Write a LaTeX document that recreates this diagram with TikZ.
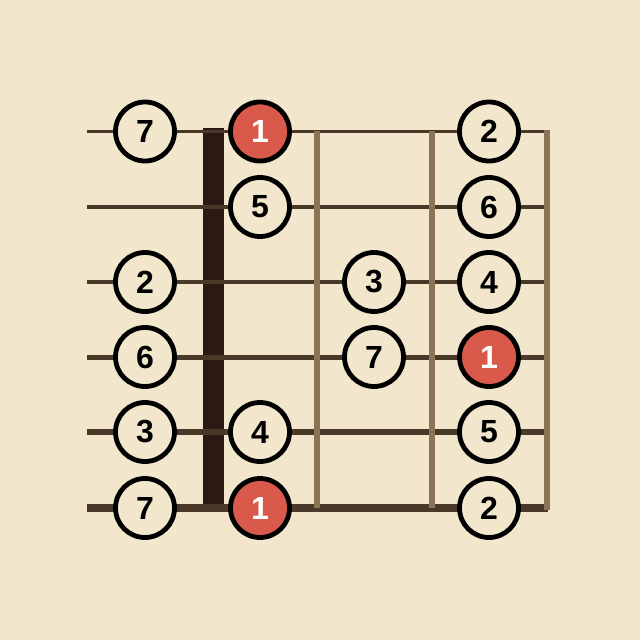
\documentclass[tikz,border=0pt]{standalone}
\usepackage{fontspec}
\setmainfont{Liberation Sans}
\definecolor{bg}{HTML}{F2E6CC}
\definecolor{strc}{HTML}{4A3828}
\definecolor{fretc}{HTML}{8B7355}
\definecolor{nutc}{HTML}{2B1A12}
\definecolor{rootc}{HTML}{D9594A}
\tikzset{
  note/.style={circle, draw=black, line width=2.4pt, fill=bg, minimum size=29.5pt, inner sep=0pt, font=\fontsize{16pt}{16pt}\selectfont\bfseries, text=black},
  rootnote/.style={note, fill=rootc, text=white},
  stringline/.style={draw=strc, line cap=butt},
  fretline/.style={draw=fretc, line width=3pt},
}
\begin{document}
\begin{tikzpicture}[x=0.5pt, y=-0.5pt]
\fill[bg] (0,0) rectangle (640,640);
\useasboundingbox (0,0) rectangle (640,640);
% nut
\fill[nutc] (203,128) rectangle (224,512);
% strings
\foreach \yy/\w in {131.5/1.6, 207/1.9, 282/2.2, 357/2.5, 432/3, 508/3.6}{
  \draw[stringline, line width=\w pt] (87,\yy) -- (548,\yy);
}
% frets
\draw[fretline] (317,131.5) -- (317,508);
\draw[fretline] (432,131.5) -- (432,508);
\draw[fretline] (547,130) -- (547,510);
% notes
\node[note] (a1) at (145,131.5) {7};
\node[rootnote] (a2) at (260,131.5) {1};
\node[note] (a3) at (489,131.5) {2};
\node[note] (b2) at (260,207) {5};
\node[note] (b3) at (489,207) {6};
\node[note] (c1) at (145,282) {2};
\node[note] (c2) at (374,282) {3};
\node[note] (c3) at (489,282) {4};
\node[note] (d1) at (145,357) {6};
\node[note] (d2) at (374,357) {7};
\node[rootnote] (d3) at (489,357) {1};
\node[note] (e1) at (145,432) {3};
\node[note] (e2) at (260,432) {4};
\node[note] (e3) at (489,432) {5};
\node[note] (f1) at (145,508) {7};
\node[rootnote] (f2) at (260,508) {1};
\node[note] (f3) at (489,508) {2};
\end{tikzpicture}
\end{document}
